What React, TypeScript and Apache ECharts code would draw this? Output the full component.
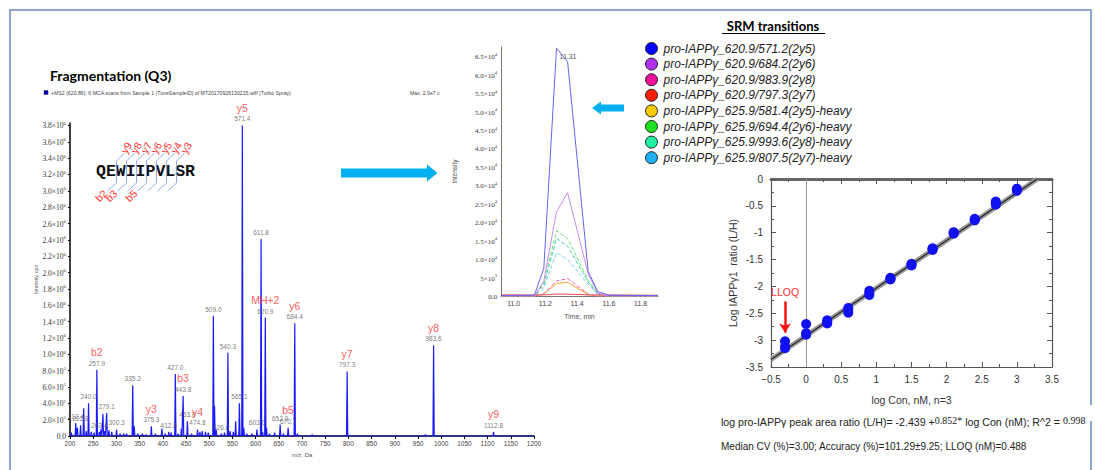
import React, { useEffect, useRef } from "react";
import * as echarts from "echarts";

const SANS = "'Liberation Sans', Arial, sans-serif";
const SERIF = "'Liberation Serif', 'Times New Roman', serif";

// ---------------- Mass spectrum (Fragmentation Q3): [m/z, intensity (cps)] ----------------
const msPeaks: [number, number][] = [
  [203.0, 40000], [212.4, 160000], [216.0, 100000], [222.8, 130000], [229.5, 340000],
  [235.0, 60000], [240.0, 400000], [246.0, 50000], [252.0, 40000], [257.9, 810000],
  [263.4, 50000], [267.0, 80000], [271.0, 270000], [275.0, 60000], [279.1, 280000],
  [284.0, 70000], [290.0, 50000], [300.3, 80000], [308.0, 30000], [316.0, 30000],
  [322.0, 30000], [335.2, 620000], [338.5, 120000], [346.0, 30000], [356.0, 30000],
  [364.0, 20000], [375.3, 120000], [384.0, 30000], [398.0, 90000], [405.0, 30000],
  [412.8, 50000], [418.0, 40000], [427.0, 760000], [433.0, 30000], [440.0, 90000],
  [443.8, 490000], [453.0, 180000], [462.0, 30000], [474.8, 80000], [480.0, 50000],
  [485.0, 60000], [492.0, 50000], [498.0, 40000], [509.0, 1470000], [511.5, 370000],
  [515.0, 80000], [526.0, 30000], [533.0, 40000], [540.3, 1020000], [545.0, 60000],
  [552.0, 50000], [557.0, 180000], [565.1, 400000], [571.4, 3800000], [574.5, 100000],
  [581.0, 30000], [592.0, 30000], [603.0, 80000], [611.8, 2410000], [615.0, 50000],
  [620.9, 1450000], [623.5, 100000], [630.0, 30000], [641.0, 40000], [652.9, 140000],
  [660.0, 30000], [670.1, 100000], [684.4, 1380000], [690.0, 30000], [722.0, 20000],
  [797.3, 790000], [966.0, 20000], [983.6, 1110000], [1112.8, 50000],
];
const msAnnotMz = [
  212.4, 222.8, 240.0, 257.9, 263.4, 279.1, 300.3, 335.2, 375.3, 412.8, 427.0, 443.8, 453.0,
  474.8, 509.0, 526.0, 540.3, 565.1, 571.4, 603.0, 611.8, 620.9, 652.9, 670.1, 684.4, 797.3,
  983.6, 1112.8,
];
const msIonLabels: Record<string, string> = {
  "257.9": "b2", "375.3": "y3", "443.8": "b3", "474.8": "y4", "571.4": "y5",
  "620.9": "MH+2", "670.1": "b5", "684.4": "y6", "797.3": "y7", "983.6": "y8", "1112.8": "y9",
};

// ---------------- Chromatogram (SRM transitions) ----------------
const chromTime = [10.92, 11.13, 11.19, 11.27, 11.34, 11.47, 11.53, 11.6, 11.91];
const srmNames = [
  "pro-IAPPγ_620.9/571.2(2y5)",
  "pro-IAPPγ_620.9/684.2(2y6)",
  "pro-IAPPγ_620.9/983.9(2y8)",
  "pro-IAPPγ_620.9/797.3(2y7)",
  "pro-IAPPγ_625.9/581.4(2y5)-heavy",
  "pro-IAPPγ_625.9/694.4(2y6)-heavy",
  "pro-IAPPγ_625.9/993.6(2y8)-heavy",
  "pro-IAPPγ_625.9/807.5(2y7)-heavy",
];
const srm571 = [150, 200, 7500, 67200, 63500, 6600, 1200, 200, 100];
const srm684 = [0, 0, 4000, 22800, 28000, 6000, 800, 0, 0];
const srm983 = [0, 0, 600, 4100, 4700, 500, 0, 0, 0];
const srm797 = [300, 300, 300, 500, 500, 300, 300, 300, 200];
const srm581h = [0, 0, 500, 3400, 3700, 400, 0, 0, 0];
const srm694h = [0, 0, 3500, 17700, 15600, 4300, 500, 0, 0];
const srm993h = [0, 0, 3000, 15600, 13500, 3800, 500, 0, 0];
const srm807h = [0, 0, 2200, 11700, 9900, 3200, 400, 0, 0];
const srmValues = [srm571, srm684, srm983, srm797, srm581h, srm694h, srm993h, srm807h];
const srmLineColors = ["#6464f0", "#cc88ee", "#f060b0", "#f04848", "#f0a030", "#70e070", "#40d8a8", "#80c8f0"];
const srmLineTypes = ["solid", "solid", "dashed", "solid", "solid", "dashed", "dashed", "dashed"];
const srmLegendColors = ["#0000ff", "#b030f0", "#f0109a", "#ff2000", "#ffcc00", "#20e020", "#20f0a0", "#20b0f0"];

// ---------------- Calibration curve ----------------
const calLogCon = [
  -0.3, -0.3, -0.3, 0, 0, 0, 0.3, 0.3, 0.3, 0.6, 0.6, 0.6, 0.9, 0.9, 0.9, 1.2, 1.2, 1.2,
  1.5, 1.5, 1.5, 1.8, 1.8, 1.8, 2.1, 2.1, 2.1, 2.4, 2.4, 2.4, 2.7, 2.7, 2.7, 3.0, 3.0, 3.0,
];
const calLogRatio = [
  -3.02, -3.12, -3.15, -2.7, -2.87, -2.9, -2.63, -2.66, -2.69, -2.4, -2.44, -2.49,
  -2.08, -2.12, -2.16, -1.84, -1.86, -1.87, -1.58, -1.6, -1.61, -1.29, -1.3, -1.32,
  -0.99, -1.0, -1.02, -0.74, -0.76, -0.77, -0.42, -0.45, -0.48, -0.18, -0.2, -0.22,
];
const regLine = [[-0.5, -3.36], [3.29, 0]];
const lloqArrow = [[-0.3, -2.28], [-0.3, -2.86]];

function supLabel(mant: string, exp: number) {
  return `{m|${mant}×10}{e|${exp}}`;
}

function buildOption() {
  const sorted = [...msPeaks].sort((a, b) => a[0] - b[0]);
  const msLine: number[][] = [[200, 0]];
  sorted.forEach(([mz, h]) => {
    msLine.push([mz - 1.3, 0], [mz, h], [mz + 1.3, 0]);
  });
  msLine.push([1200, 0]);
  const msAnnot = msAnnotMz.map((mz) => {
    const pk = msPeaks.find((p) => Math.abs(p[0] - mz) < 0.05)!;
    return { value: [mz, pk[1]], name: msIonLabels[mz.toFixed(1)] || "" };
  });

  const srmSeries = srmNames.map((name, i) => ({
    name,
    type: "line",
    xAxisIndex: 1,
    yAxisIndex: 1,
    showSymbol: false,
    symbol: "none",
    z: 10 - i,
    lineStyle: { color: srmLineColors[i], width: 1, type: srmLineTypes[i] as any },
    itemStyle: { color: srmLegendColors[i] },
    data: chromTime.map((t, k) => [t, srmValues[i][k]]),
    markPoint:
      i === 0
        ? {
            symbol: "circle",
            symbolSize: 0,
            data: [{ type: "max" }],
            label: {
              show: true,
              formatter: "11.31",
              position: "right",
              offset: [-2, 8],
              fontSize: 7,
              color: "#555",
              fontFamily: SANS,
            },
          }
        : undefined,
  }));

  const frame = "#8fa5d3";
  const red = "#ff3030";
  const peptideX = 96;
  const cleave = [0, 1, 2, 3, 4, 5, 6].map((i) => 116.5 + 10 * i);
  const yIons = ["y9", "y8", "y7", "y6", "y5", "y4", "y3"];
  const bIons: [number, string][] = [[0, "b2"], [1, "b3"], [3, "b5"]];

  const graphic: any[] = [
    { type: "polyline", shape: { points: [[10, 472], [10, 10], [1091, 10], [1091, 405]] }, style: { stroke: frame, lineWidth: 2, fill: null } },
    { type: "line", shape: { x1: 1091, y1: 421, x2: 1091, y2: 472 }, style: { stroke: frame, lineWidth: 2 } },
    { type: "text", x: 50, y: 75, style: { text: "Fragmentation (Q3)", fontFamily: "Lato", fontWeight: "bold", fontSize: 14, fill: "#000", verticalAlign: "middle" } },
    { type: "rect", shape: { x: 44, y: 90.5, width: 4, height: 4 }, style: { fill: "#0000cc", stroke: "#333", lineWidth: 0.5 } },
    { type: "text", x: 51, y: 93, style: { text: "+MS2 (620.86): 6 MCA scans from Sample 1 (TuneSampleID) of MT20170926130215.wiff (Turbo Spray)", fontFamily: SANS, fontSize: 5.2, fill: "#444", verticalAlign: "middle" } },
    { type: "text", x: 410, y: 93, style: { text: "Max. 2.0e7 c", fontFamily: SANS, fontSize: 5.2, fill: "#444", verticalAlign: "middle" } },
    { type: "text", x: peptideX, y: 171, style: { text: "QEWIIPVLSR", fontFamily: "'Liberation Mono', 'Courier New', monospace", fontWeight: "bold", fontSize: 16.5, fill: "#111", verticalAlign: "middle" } },
    ...cleave.map((x) => ({
      type: "polyline",
      shape: { points: [[x + 8, 153], [x, 161], [x, 183], [x - 9, 191]] },
      style: { stroke: "#7b9be0", lineWidth: 0.8, fill: null },
    })),
    ...cleave.map((x, i) => ({
      type: "text",
      x: x + 10,
      y: 148,
      rotation: Math.PI / 3,
      style: { text: yIons[i], fontFamily: SANS, fontSize: 10.5, fill: red, align: "center", verticalAlign: "middle" },
    })),
    ...bIons.map(([i, t]) => ({
      type: "text",
      x: cleave[i] - 15,
      y: 196,
      rotation: Math.PI / 4,
      style: { text: t, fontFamily: SANS, fontSize: 10.5, fill: red, align: "center", verticalAlign: "middle" },
    })),
    { type: "polygon", shape: { points: [[341, 168.5], [427, 168.5], [427, 164.5], [437.5, 173], [427, 181.5], [427, 177.5], [341, 177.5]] }, style: { fill: "#00b0f0" } },
    { type: "polygon", shape: { points: [[624, 104.5], [601, 104.5], [601, 101.5], [592, 108], [601, 114.5], [601, 111.5], [624, 111.5]] }, style: { fill: "#00b0f0" } },
    { type: "text", x: 773, y: 26, style: { text: "SRM transitions", fontFamily: "Lato", fontWeight: "bold", fontSize: 13, fill: "#000", align: "center", verticalAlign: "middle" } },
    { type: "line", shape: { x1: 722, y1: 33.5, x2: 825, y2: 33.5 }, style: { stroke: "#000", lineWidth: 1 } },
    {
      type: "text", x: 721, y: 421,
      style: {
        text: "{a|log pro-IAPPγ peak area ratio (L/H)= -2.439 +}{b|0.852*}{a| log Con (nM); R^2 = }{b|0.998}",
        verticalAlign: "middle",
        rich: {
          a: { fontFamily: SANS, fontSize: 10.6, fill: "#222", lineHeight: 12, verticalAlign: "bottom" },
          b: { fontFamily: SERIF, fontSize: 10, fill: "#222", lineHeight: 10, verticalAlign: "top" },
        },
      },
    },
    { type: "text", x: 721, y: 446, style: { text: "Median CV (%)=3.00; Accuracy (%)=101.29±9.25; LLOQ (nM)=0.488", fontFamily: SANS, fontSize: 10, fill: "#222", verticalAlign: "middle" } },
  ];

  return {
    animation: false,
    backgroundColor: "#fff",
    textStyle: { fontFamily: SANS },
    graphic,
    legend: {
      orient: "vertical",
      left: 640,
      top: 37,
      padding: 5,
      itemWidth: 14,
      itemHeight: 12,
      itemGap: 2.6,
      icon: "circle",
      selectedMode: false,
      textStyle: { fontFamily: SANS, fontStyle: "italic", fontSize: 12, color: "#222", lineHeight: 12 },
      data: srmNames.map((n, i) => ({ name: n, itemStyle: { color: srmLegendColors[i], borderColor: "#222", borderWidth: 1 } })),
    },
    grid: [
      { left: 70, top: 123, width: 464, height: 313 },
      { left: 501, top: 47, width: 157, height: 249 },
      { left: 771, top: 179, width: 281, height: 188 },
    ],
    xAxis: [
      {
        gridIndex: 0, type: "value", min: 200, max: 1200, interval: 50,
        name: "m/z, Da", nameLocation: "middle", nameGap: 16,
        nameTextStyle: { fontSize: 6, color: "#555" },
        axisLine: { lineStyle: { color: "#000", width: 1.5 } },
        axisTick: { length: 3, lineStyle: { color: "#000" } },
        axisLabel: { fontSize: 6.5, color: "#444", margin: 4, formatter: (v: number) => String(v) },
        splitLine: { show: false },
      },
      {
        gridIndex: 1, type: "value", min: 10.92, max: 11.91, splitNumber: 5,
        name: "Time, min", nameLocation: "middle", nameGap: 17,
        nameTextStyle: { fontSize: 7, color: "#555" },
        axisLine: { lineStyle: { color: "#777", width: 1 } },
        axisTick: { show: false },
        axisLabel: { fontSize: 7, color: "#444", margin: 4, showMinLabel: false, showMaxLabel: false, formatter: (v: number) => v.toFixed(1) },
        splitLine: { show: false },
      },
      {
        gridIndex: 2, type: "value", min: -0.5, max: 3.5, interval: 0.5, position: "bottom",
        name: "log Con, nM, n=3", nameLocation: "middle", nameGap: 27,
        nameTextStyle: { fontSize: 10.5, color: "#333" },
        axisLine: { onZero: false, lineStyle: { color: "#555", width: 1.2 } },
        axisTick: { inside: true, length: 5, lineStyle: { color: "#555" } },
        minorTick: { show: true, splitNumber: 2, length: 3, lineStyle: { color: "#555" } },
        axisLabel: { fontSize: 10, color: "#333", margin: 7, formatter: (v: number) => String(v).replace("-", "−") },
        splitLine: { show: false },
      },
      {
        gridIndex: 2, type: "value", min: -0.5, max: 3.5, interval: 0.5, position: "top",
        axisLine: { onZero: false, lineStyle: { color: "#666", width: 3 } },
        axisTick: { inside: true, length: 5, lineStyle: { color: "#555" } },
        minorTick: { show: true, splitNumber: 2, length: 3, lineStyle: { color: "#555" } },
        axisLabel: { show: false },
        splitLine: { show: false },
      },
    ],
    yAxis: [
      {
        gridIndex: 0, type: "value", min: 0, max: 3830000, interval: 200000,
        name: "Intensity, cps", nameLocation: "middle", nameGap: 24,
        nameTextStyle: { fontSize: 5, color: "#555" },
        axisLine: { show: true, lineStyle: { color: "#000", width: 1.5 } },
        axisTick: { show: true, length: 2, lineStyle: { color: "#000" } },
        axisLabel: {
          margin: 4, showMaxLabel: false,
          formatter: (v: number) => {
            if (v === 0) return "{m|0.0}";
            if (v < 1000000) return supLabel((v / 100000).toFixed(1), 5);
            return supLabel((v / 1000000).toFixed(1), 6);
          },
          rich: {
            m: { fontFamily: SERIF, fontSize: 7.5, color: "#333", lineHeight: 9, verticalAlign: "bottom" },
            e: { fontFamily: SERIF, fontSize: 5, color: "#333", lineHeight: 6, verticalAlign: "top" },
          },
        },
        splitLine: { show: false },
      },
      {
        gridIndex: 1, type: "value", min: 0, max: 67500, interval: 5000,
        name: "Intensity", nameLocation: "middle", nameGap: 43,
        nameTextStyle: { fontSize: 6.5, color: "#555" },
        axisLine: { show: true, lineStyle: { color: "#777", width: 1 } },
        axisTick: { show: false },
        axisLabel: {
          margin: 4, showMaxLabel: false,
          formatter: (v: number) => {
            if (v === 0) return "{m|0.0}";
            if (v < 10000) return supLabel((v / 1000).toFixed(0), 3);
            return supLabel((v / 10000).toFixed(1), 4);
          },
          rich: {
            m: { fontFamily: SERIF, fontSize: 7, color: "#333", lineHeight: 9, verticalAlign: "bottom" },
            e: { fontFamily: SERIF, fontSize: 4.5, color: "#333", lineHeight: 6, verticalAlign: "top" },
          },
        },
        splitLine: { show: false },
      },
      {
        gridIndex: 2, type: "value", min: -3.5, max: 0, interval: 0.5, position: "left",
        name: "Log IAPPγ1  ratio (L/H)", nameLocation: "middle", nameGap: 33,
        nameTextStyle: { fontSize: 10.5, color: "#333" },
        axisLine: { onZero: false, lineStyle: { color: "#555", width: 1.2 } },
        axisTick: { inside: true, length: 5, lineStyle: { color: "#555" } },
        minorTick: { show: true, splitNumber: 2, length: 3, lineStyle: { color: "#555" } },
        axisLabel: { fontSize: 10, color: "#333", margin: 8 },
        splitLine: { show: false },
      },
      {
        gridIndex: 2, type: "value", min: -3.5, max: 0, interval: 0.5, position: "right",
        axisLine: { onZero: false, lineStyle: { color: "#555", width: 1.2 } },
        axisTick: { inside: true, length: 5, lineStyle: { color: "#555" } },
        minorTick: { show: true, splitNumber: 2, length: 3, lineStyle: { color: "#555" } },
        axisLabel: { show: false },
        splitLine: { show: false },
      },
    ],
    series: [
      {
        type: "line",
        xAxisIndex: 0,
        yAxisIndex: 0,
        showSymbol: false,
        symbol: "none",
        lineStyle: { color: "#1a1aff", width: 1.2 },
        data: msLine,
        z: 3,
      },
      {
        type: "scatter",
        xAxisIndex: 0,
        yAxisIndex: 0,
        symbolSize: 0,
        z: 4,
        data: msAnnot,
        label: {
          show: true,
          position: "top",
          distance: 2,
          formatter: (p: any) =>
            p.name ? `{ion|${p.name}}\n{mz|${p.value[0].toFixed(1)}}` : `{mz|${p.value[0].toFixed(1)}}`,
          rich: {
            ion: { fontFamily: SANS, fontSize: 10.5, color: red, lineHeight: 13 },
            mz: { fontFamily: SANS, fontSize: 6.5, color: "#555", lineHeight: 9 },
          },
        },
      },
      ...srmSeries,
      {
        type: "line",
        xAxisIndex: 2,
        yAxisIndex: 2,
        showSymbol: false,
        symbol: "none",
        lineStyle: { color: "#9a9a9a", width: 5 },
        data: regLine,
        z: 2,
        markLine: {
          silent: true,
          symbol: "none",
          label: { show: false },
          lineStyle: { color: "#999", width: 1, type: "solid" },
          data: [{ xAxis: 0 }],
        },
      },
      {
        type: "line",
        xAxisIndex: 2,
        yAxisIndex: 2,
        showSymbol: false,
        symbol: "none",
        lineStyle: { color: "#222", width: 1.2 },
        data: regLine,
        z: 3,
        markLine: {
          silent: true,
          symbol: ["none", "arrow"],
          symbolSize: 9,
          lineStyle: { color: "#ff1010", width: 2.5, type: "solid" },
          label: { show: true, position: "start", formatter: "LLOQ", color: red, fontSize: 10.5, fontFamily: SANS, distance: 4 },
          data: [[{ coord: lloqArrow[0] }, { coord: lloqArrow[1] }]],
        },
      },
      {
        type: "scatter",
        xAxisIndex: 2,
        yAxisIndex: 2,
        symbolSize: 10,
        itemStyle: { color: "#1010f0", opacity: 1 },
        data: calLogCon.map((x, i) => [x, calLogRatio[i]]),
        z: 5,
      },
    ],
  };
}

export default function App() {
  const ref = useRef<HTMLDivElement>(null);
  useEffect(() => {
    const chart = echarts.init(ref.current!, null, { renderer: "svg" });
    chart.setOption(buildOption() as any);
    return () => chart.dispose();
  }, []);
  return (
    <div
      ref={ref}
      style={{ position: "absolute", left: 0, top: 0, width: 1095, height: 470, background: "#fff" }}
    />
  );
}
